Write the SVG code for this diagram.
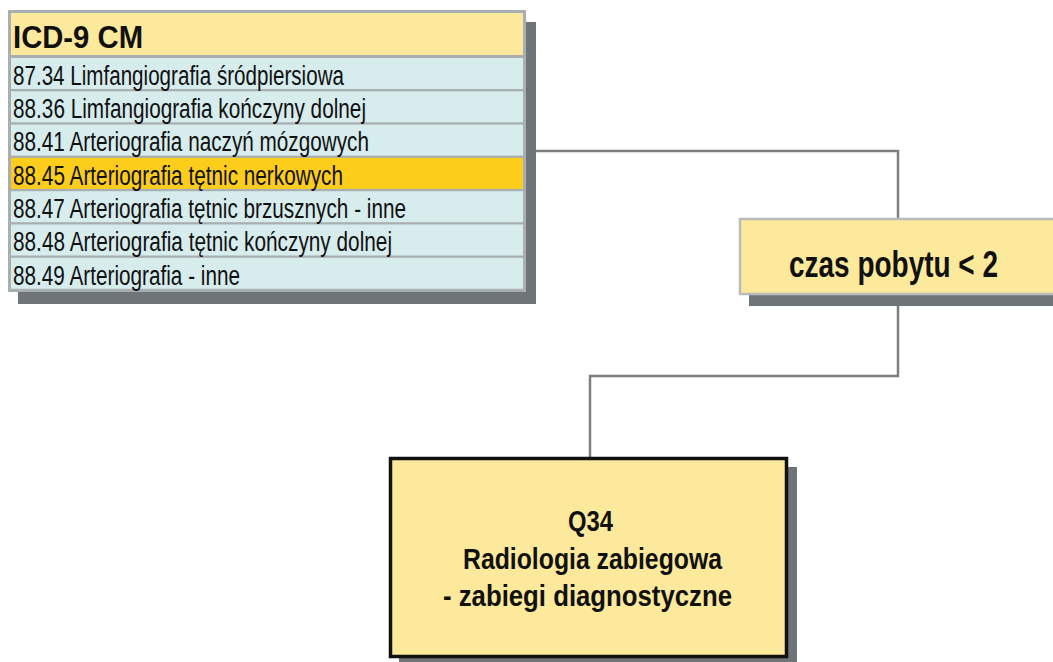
<svg xmlns="http://www.w3.org/2000/svg" width="1053" height="662" viewBox="0 0 1053 662">
<style>
.shadow{fill:#6f7479}
.row{fill:#d7eced}
.hl{fill:#fdcd1c}
.hdr{fill:#fde99c}
.t{font-family:"Liberation Sans",Arial,sans-serif;font-size:27px;fill:#111}
.b{font-family:"Liberation Sans",Arial,sans-serif;font-weight:bold;fill:#111}
.conn{fill:none;stroke:#7b7f80;stroke-width:2.5}
</style>
<rect width="1053" height="662" fill="#ffffff"/>
<g id="connectors">
<polyline class="conn" points="535,151 898,151 898,219"/>
<polyline class="conn" points="898,306 898,376 590,376 590,457"/>
</g>
<g id="icd-table">
<rect class="shadow" x="18" y="22" width="518" height="282"/>
<rect x="8" y="10" width="518" height="282" fill="#a9aeb0"/>
<rect class="hdr" x="11" y="13" width="512" height="42"/>
<text class="b" x="13" y="48" font-size="31" textLength="130" lengthAdjust="spacingAndGlyphs">ICD-9 CM</text>
<rect class="row" x="11" y="58" width="512" height="31"/>
<rect class="row" x="11" y="91.3" width="512" height="31"/>
<rect class="row" x="11" y="124.6" width="512" height="31"/>
<rect class="hl" x="11" y="157.9" width="512" height="31"/>
<rect class="row" x="11" y="191.2" width="512" height="31"/>
<rect class="row" x="11" y="224.5" width="512" height="31"/>
<rect class="row" x="11" y="257.8" width="512" height="31"/>
<text class="t" x="13" y="84.5" textLength="331" lengthAdjust="spacingAndGlyphs">87.34 Limfangiografia śródpiersiowa</text>
<text class="t" x="13" y="118" textLength="353" lengthAdjust="spacingAndGlyphs">88.36 Limfangiografia kończyny dolnej</text>
<text class="t" x="13" y="151.3" textLength="356" lengthAdjust="spacingAndGlyphs">88.41 Arteriografia naczyń mózgowych</text>
<text class="t" x="13" y="184.6" textLength="330" lengthAdjust="spacingAndGlyphs">88.45 Arteriografia tętnic nerkowych</text>
<text class="t" x="13" y="217.9" textLength="393" lengthAdjust="spacingAndGlyphs">88.47 Arteriografia tętnic brzusznych - inne</text>
<text class="t" x="13" y="251.2" textLength="379" lengthAdjust="spacingAndGlyphs">88.48 Arteriografia tętnic kończyny dolnej</text>
<text class="t" x="13" y="284.5" textLength="227" lengthAdjust="spacingAndGlyphs">88.49 Arteriografia - inne</text>
</g>
<g id="czas-pobytu">
<rect class="shadow" x="749" y="231" width="304" height="75"/>
<rect x="740" y="219" width="315" height="75" fill="#fde99c" stroke="#b7bbbb" stroke-width="2.5"/>
<text class="b" x="893.5" y="277" font-size="36" text-anchor="middle" textLength="209" lengthAdjust="spacingAndGlyphs">czas pobytu &lt; 2</text>
</g>
<g id="q34">
<rect class="shadow" x="399" y="467" width="398" height="195"/>
<rect x="390.5" y="458.5" width="396" height="198" fill="#fde99c" stroke="#111" stroke-width="3.5"/>
<text class="b" x="590.5" y="531" font-size="29" text-anchor="middle" textLength="45" lengthAdjust="spacingAndGlyphs">Q34</text>
<text class="b" x="592.5" y="569" font-size="29" text-anchor="middle" textLength="259" lengthAdjust="spacingAndGlyphs">Radiologia zabiegowa</text>
<text class="b" x="587.5" y="606" font-size="29" text-anchor="middle" textLength="289" lengthAdjust="spacingAndGlyphs">- zabiegi diagnostyczne</text>
</g>
</svg>
